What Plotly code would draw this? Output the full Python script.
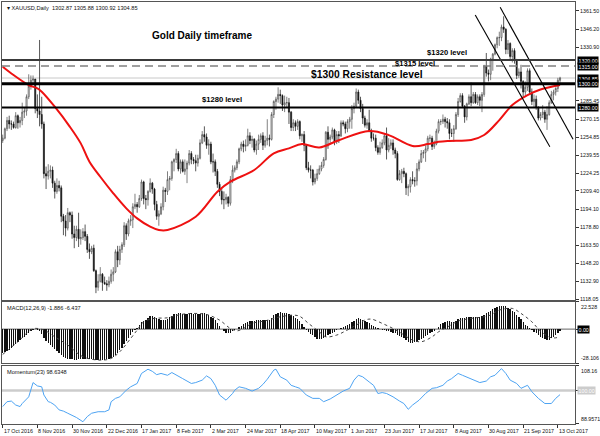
import plotly.graph_objects as go

# ---------------- data ----------------
date_labels = ["17 Oct 2016", "8 Nov 2016", "30 Nov 2016", "22 Dec 2016", "17 Jan 2017",
               "8 Feb 2017", "2 Mar 2017", "24 Mar 2017", "18 Apr 2017", "10 May 2017",
               "1 Jun 2017", "23 Jun 2017", "17 Jul 2017", "8 Aug 2017", "30 Aug 2017",
               "21 Sep 2017", "13 Oct 2017"]
date_label_bars = [0, 16, 32, 48, 64, 80, 96, 112, 128, 144, 160, 176, 192, 208, 224, 240, 256]

opens = [1252, 1254, 1262, 1269, 1266, 1266, 1263, 1273, 1267, 1269,
         1276, 1277, 1289, 1298, 1303, 1304, 1279, 1277, 1274, 1266,
         1224, 1222, 1226, 1227, 1216, 1209, 1214, 1212, 1188, 1184,
         1178, 1191, 1189, 1173, 1170, 1177, 1169, 1170, 1175, 1171,
         1160, 1158, 1161, 1142, 1128, 1133, 1139, 1132, 1131, 1130,
         1133, 1139, 1141, 1158, 1151, 1160, 1164, 1180, 1173, 1184,
         1185, 1196, 1198, 1196, 1203, 1217, 1203, 1202, 1209, 1216,
         1211, 1198, 1188, 1190, 1196, 1210, 1209, 1219, 1220, 1234,
         1236, 1241, 1228, 1234, 1226, 1228, 1233, 1241, 1236, 1235,
         1233, 1237, 1250, 1257, 1255, 1248, 1249, 1234, 1234, 1226,
         1215, 1209, 1202, 1202, 1204, 1199, 1219, 1227, 1229, 1234,
         1245, 1249, 1247, 1248, 1256, 1252, 1253, 1244, 1249, 1253,
         1256, 1248, 1252, 1254, 1253, 1274, 1285, 1287, 1291, 1290,
         1282, 1284, 1284, 1276, 1263, 1267, 1264, 1268, 1256, 1257,
         1248, 1229, 1227, 1227, 1217, 1220, 1224, 1228, 1231, 1236,
         1259, 1253, 1255, 1261, 1251, 1257, 1256, 1267, 1266, 1262,
         1268, 1270, 1279, 1281, 1293, 1286, 1279, 1271, 1265, 1267,
         1260, 1254, 1254, 1246, 1242, 1246, 1250, 1256, 1244, 1248,
         1250, 1244, 1241, 1219, 1224, 1226, 1224, 1212, 1213, 1219,
         1218, 1218, 1228, 1234, 1241, 1242, 1245, 1254, 1254, 1247,
         1249, 1260, 1268, 1268, 1270, 1268, 1267, 1258, 1258, 1262,
         1274, 1285, 1290, 1281, 1272, 1283, 1289, 1284, 1291, 1284,
         1289, 1286, 1291, 1315, 1309, 1308, 1321, 1325, 1333, 1339,
         1339, 1348, 1346, 1329, 1334, 1323, 1328, 1320, 1307, 1310,
         1302, 1293, 1297, 1311, 1293, 1285, 1287, 1280, 1271, 1274,
         1276, 1270, 1274, 1284, 1291, 1293, 1296, 1302.87]

highs = [1257, 1263, 1272, 1273, 1269, 1268, 1276, 1274, 1272, 1284,
         1280, 1291, 1308, 1307, 1307, 1304, 1291, 1337, 1289, 1268,
         1230, 1232, 1231, 1230, 1218, 1220, 1218, 1214, 1190, 1189,
         1195, 1192, 1192, 1180, 1180, 1191, 1177, 1178, 1181, 1173,
         1165, 1163, 1164, 1143, 1139, 1145, 1140, 1137, 1134, 1137,
         1143, 1145, 1160, 1163, 1163, 1166, 1183, 1182, 1186, 1189,
         1199, 1207, 1200, 1206, 1219, 1218, 1206, 1210, 1220, 1217,
         1212, 1201, 1193, 1199, 1213, 1212, 1226, 1222, 1235, 1237,
         1245, 1243, 1236, 1236, 1236, 1235, 1244, 1243, 1238, 1240,
         1240, 1253, 1260, 1264, 1258, 1253, 1251, 1241, 1236, 1228,
         1217, 1211, 1209, 1207, 1205, 1222, 1231, 1231, 1236, 1246,
         1251, 1252, 1253, 1262, 1259, 1256, 1254, 1252, 1257, 1258,
         1259, 1256, 1270, 1257, 1276, 1286, 1289, 1297, 1295, 1291,
         1290, 1289, 1288, 1277, 1270, 1269, 1270, 1269, 1258, 1260,
         1249, 1234, 1231, 1228, 1224, 1228, 1231, 1234, 1238, 1260,
         1264, 1257, 1263, 1262, 1260, 1260, 1269, 1269, 1268, 1270,
         1272, 1282, 1284, 1296, 1295, 1289, 1283, 1273, 1270, 1278,
         1262, 1258, 1257, 1248, 1251, 1253, 1258, 1263, 1254, 1253,
         1253, 1246, 1243, 1227, 1228, 1229, 1225, 1215, 1221, 1226,
         1221, 1233, 1236, 1244, 1244, 1248, 1256, 1257, 1256, 1252,
         1262, 1270, 1270, 1274, 1272, 1271, 1270, 1262, 1265, 1276,
         1288, 1292, 1292, 1282, 1284, 1291, 1301, 1293, 1293, 1291,
         1291, 1293, 1316, 1326, 1312, 1322, 1326, 1334, 1340, 1344,
         1350, 1357, 1347, 1337, 1335, 1330, 1330, 1321, 1313, 1316,
         1303, 1302, 1313, 1313, 1296, 1291, 1290, 1281, 1276, 1282,
         1278, 1281, 1286, 1294, 1295, 1297, 1305, 1305.88]

lows = [1250, 1253, 1260, 1262, 1261, 1262, 1262, 1262, 1263, 1265,
        1271, 1273, 1287, 1295, 1300, 1275, 1271, 1264, 1262, 1220,
        1211, 1219, 1220, 1212, 1203, 1207, 1209, 1183, 1172, 1171,
        1176, 1183, 1169, 1161, 1167, 1162, 1164, 1168, 1167, 1157,
        1152, 1156, 1141, 1123, 1125, 1132, 1125, 1130, 1125, 1128,
        1131, 1133, 1140, 1145, 1147, 1157, 1162, 1168, 1171, 1180,
        1178, 1194, 1191, 1195, 1201, 1198, 1194, 1197, 1208, 1207,
        1193, 1185, 1180, 1189, 1193, 1200, 1206, 1210, 1218, 1226,
        1233, 1226, 1224, 1225, 1223, 1216, 1231, 1232, 1232, 1226,
        1230, 1236, 1249, 1251, 1245, 1240, 1232, 1225, 1222, 1212,
        1205, 1198, 1194, 1198, 1196, 1197, 1216, 1225, 1227, 1232,
        1243, 1242, 1243, 1247, 1249, 1246, 1242, 1240, 1244, 1250,
        1244, 1246, 1248, 1247, 1252, 1271, 1278, 1284, 1283, 1277,
        1276, 1280, 1266, 1260, 1260, 1260, 1261, 1253, 1251, 1243,
        1227, 1225, 1220, 1214, 1215, 1218, 1223, 1226, 1229, 1235,
        1245, 1250, 1253, 1248, 1249, 1250, 1255, 1264, 1258, 1259,
        1262, 1262, 1275, 1280, 1283, 1276, 1266, 1263, 1262, 1259,
        1251, 1252, 1243, 1240, 1240, 1245, 1248, 1236, 1242, 1245,
        1240, 1237, 1218, 1218, 1216, 1221, 1206, 1205, 1208, 1215,
        1213, 1214, 1226, 1233, 1237, 1234, 1243, 1251, 1244, 1245,
        1248, 1258, 1265, 1266, 1263, 1262, 1253, 1255, 1251, 1261,
        1272, 1284, 1280, 1267, 1269, 1282, 1281, 1283, 1283, 1282,
        1281, 1276, 1289, 1306, 1302, 1303, 1311, 1324, 1330, 1332,
        1336, 1343, 1325, 1325, 1321, 1318, 1317, 1304, 1305, 1296,
        1288, 1290, 1294, 1291, 1282, 1280, 1278, 1269, 1269, 1271,
        1267, 1261, 1273, 1283, 1286, 1290, 1293, 1300.92]

closes = [1254, 1262, 1269, 1266, 1266, 1263, 1273, 1267, 1269, 1276,
          1277, 1289, 1298, 1303, 1304, 1279, 1277, 1274, 1266, 1224,
          1222, 1226, 1227, 1216, 1209, 1214, 1212, 1188, 1184, 1178,
          1191, 1189, 1173, 1170, 1177, 1169, 1170, 1175, 1171, 1160,
          1158, 1161, 1142, 1128, 1133, 1139, 1132, 1131, 1130, 1133,
          1139, 1141, 1158, 1151, 1160, 1164, 1180, 1173, 1184, 1185,
          1196, 1198, 1196, 1203, 1217, 1203, 1202, 1209, 1216, 1211,
          1198, 1188, 1190, 1196, 1210, 1209, 1219, 1220, 1234, 1236,
          1241, 1228, 1234, 1226, 1228, 1233, 1241, 1236, 1235, 1233,
          1237, 1250, 1257, 1255, 1248, 1249, 1234, 1234, 1226, 1215,
          1209, 1202, 1202, 1204, 1199, 1219, 1227, 1229, 1234, 1245,
          1249, 1247, 1248, 1256, 1252, 1253, 1244, 1249, 1253, 1256,
          1248, 1252, 1254, 1253, 1274, 1285, 1287, 1291, 1290, 1282,
          1284, 1284, 1276, 1263, 1267, 1264, 1268, 1256, 1257, 1248,
          1229, 1227, 1227, 1217, 1220, 1224, 1228, 1231, 1236, 1259,
          1253, 1255, 1261, 1251, 1257, 1256, 1267, 1266, 1262, 1268,
          1270, 1279, 1281, 1293, 1286, 1279, 1271, 1265, 1267, 1260,
          1254, 1254, 1246, 1242, 1246, 1250, 1256, 1244, 1248, 1250,
          1244, 1241, 1219, 1224, 1226, 1224, 1212, 1213, 1219, 1218,
          1218, 1228, 1234, 1241, 1242, 1245, 1254, 1254, 1247, 1249,
          1260, 1268, 1268, 1270, 1268, 1267, 1258, 1258, 1262, 1274,
          1285, 1290, 1281, 1272, 1283, 1289, 1284, 1291, 1284, 1289,
          1286, 1291, 1315, 1309, 1308, 1321, 1325, 1333, 1339, 1339,
          1348, 1346, 1329, 1334, 1323, 1328, 1320, 1307, 1310, 1302,
          1293, 1297, 1311, 1293, 1285, 1287, 1280, 1271, 1274, 1276,
          1270, 1274, 1284, 1291, 1293, 1296, 1303, 1304.85]

# moving average (red line), read at sampled bars
ma_bars = [0, 5, 12, 16, 18, 24, 31, 36, 40, 45, 51, 57, 62, 68, 72, 76, 89, 99, 105, 116,
           125, 132, 138, 146, 155, 169, 178, 189, 196, 201, 206, 216, 222, 229, 235, 242, 248, 257]
ma_vals = [1314.4, 1307.4, 1298.9, 1296.1, 1293.3, 1280.6, 1263.6, 1249.6, 1234.1, 1221.4,
           1207.4, 1194.7, 1186.2, 1179.2, 1176.4, 1176.4, 1187.6, 1208.7, 1217.2, 1227.1,
           1241.2, 1245.4, 1249.0, 1246.2, 1252.3, 1260.0, 1256.6, 1247.4, 1249.0, 1250.9,
           1251.7, 1252.5, 1256.7, 1269.3, 1282.0, 1290.4, 1295.2, 1299.0]

# horizontal levels
level_1320 = 1320.0
level_1315 = 1315.0
level_1300 = 1300.0
level_1280 = 1280.0

# descending channel lines (bar, price)
chan1_bars = [217.9, 252.3]
chan1_vals = [1358.1, 1246.8]
chan2_bars = [229.4, 263.0]
chan2_vals = [1364.6, 1253.0]

# MACD(12,26,9) main (histogram) per bar
macd_main = [
    -19.9, -19.0, -17.9, -16.8, -15.6, -14.2, -12.6, -10.9, -9.2, -7.6,
    -6.2, -4.8, -3.2, -1.6, -0.6, -0.2, -0.4, -1.5, -3.8, -7.4,
    -9.6, -11.3, -13.0, -14.8, -16.7, -18.3, -19.6, -21.3, -22.6, -23.5,
    -24.2, -24.6, -24.9, -25.0, -25.0, -24.7, -24.6, -24.3, -24.2, -24.5,
    -24.6, -24.6, -25.1, -25.6, -25.5, -25.4, -25.3, -25.1, -24.8, -24.2,
    -23.5, -22.6, -21.0, -19.4, -17.4, -15.3, -12.4, -10.0, -7.5, -4.9,
    -2.6, -0.8, 0.9, 3.4, 5.6, 6.6, 7.9, 9.4, 10.6, 10.9,
    10.3, 9.4, 8.4, 7.6, 7.4, 7.8, 8.7, 9.6, 11.0, 12.1,
    12.8, 12.9, 13.0, 12.7, 12.6, 12.5, 12.9, 12.9, 12.8, 12.5,
    12.3, 12.6, 13.1, 13.0, 12.3, 11.4, 10.2, 8.8, 7.2, 5.4,
    2.9, 0.3, -1.6, -2.8, -3.6, -2.8, -1.6, -0.6, 0.5, 1.7,
    2.9, 4.0, 5.0, 6.1, 6.6, 6.9, 7.0, 7.1, 7.2, 7.4,
    7.4, 7.4, 7.6, 7.8, 9.4, 11.2, 12.6, 13.5, 13.7, 13.5,
    13.2, 12.9, 12.3, 11.3, 10.6, 9.5, 8.4, 6.5, 4.2, 1.8,
    -0.4, -2.2, -3.7, -5.0, -6.8, -8.0, -8.2, -7.9, -7.2, -6.1,
    -5.2, -4.3, -3.2, -2.0, -1.1, 0.1, 0.9, 1.8, 2.6, 3.5,
    4.5, 5.7, 7.0, 8.4, 8.8, 8.6, 7.9, 7.0, 6.0, 4.9,
    3.7, 2.6, 1.4, 0.6, -0.1, -0.5, -0.7, -1.2, -1.7, -2.1,
    -2.8, -3.6, -4.8, -5.8, -6.8, -7.6, -9.2, -10.5, -11.1, -11.3,
    -10.9, -10.2, -9.3, -8.2, -7.1, -6.0, -4.6, -3.5, -2.5, -1.5,
    0.2, 2.1, 4.0, 5.3, 6.2, 6.6, 6.3, 6.0, 6.1, 7.0,
    8.0, 9.1, 9.4, 9.3, 9.7, 9.9, 10.0, 10.1, 9.9, 9.9,
    10.0, 10.5, 11.8, 13.2, 14.2, 15.3, 16.3, 17.2, 17.9, 18.6,
    19.3, 19.4, 18.6, 17.6, 16.4, 15.1, 13.8, 11.9, 10.2, 8.0,
    5.6, 3.7, 2.3, 0.9, -0.8, -2.1, -3.6, -5.2, -6.3, -7.4,
    -8.3, -9.0, -8.6, -7.5, -6.4, -5.0, -3.3, -1.886]

# MACD signal (dotted), read at sampled bars
sig_bars = [0, 7, 14, 19, 24, 30, 37, 45, 50, 54, 59, 62, 65, 70, 76, 82, 88, 94, 100, 105,
            108, 111, 115, 121, 128, 134, 137, 141, 146, 149, 154, 158, 163, 167, 170, 175,
            180, 184, 189, 193, 198, 201, 206, 210, 216, 224, 229, 235, 239, 244, 248, 253, 257]
sig_vals = [-20.8, -10.4, 0.3, -0.8, -6.3, -13.1, -22.7, -25.5, -24.1, -18.6, -7.7, -0.8,
            6.0, 8.8, 9.3, 12.0, 12.9, 12.0, 7.4, 0.5, -1.4, 0.5, 4.7, 6.8, 10.1, 11.5, 10.5,
            4.7, -2.2, -6.3, -4.9, -1.6, 3.3, 7.4, 8.2, 4.7, 0.5, -3.6, -9.0, -10.4, -6.3,
            -2.2, 2.7, 6.6, 8.8, 10.9, 15.6, 17.0, 12.9, 6.0, -1.6, -7.1, -6.437]

# Momentum(23), read at sampled bars
mom_bars = [0, 2, 4, 6, 8, 9, 12, 13, 14, 16, 18, 19, 21, 22, 24, 26, 28, 30, 32, 34, 37, 39,
            41, 44, 47, 49, 50, 52, 54, 57, 59, 62, 64, 67, 69, 71, 73, 76, 78, 80, 83, 85,
            87, 89, 92, 94, 96, 98, 100, 103, 106, 107, 109, 112, 115, 118, 120, 122, 125,
            126, 128, 131, 133, 135, 137, 140, 143, 146, 148, 151, 154, 157, 160, 162, 164,
            166, 169, 171, 173, 175, 177, 180, 183, 185, 187, 189, 192, 195, 198, 200, 203,
            205, 207, 210, 212, 215, 218, 220, 223, 225, 227, 230, 232, 234, 237, 239, 242,
            244, 247, 250, 253, 255, 257]
mom_vals = [94.7, 96.3, 96.5, 95.2, 94.7, 95.7, 97.9, 100.0, 102.6, 101.5, 101.2, 98.5, 96.3,
            96.1, 95.2, 93.6, 93.2, 92.5, 91.9, 91.1, 89.7, 91.4, 92.5, 93.0, 93.0, 93.6, 96.3,
            97.4, 97.9, 100.1, 101.2, 102.3, 105.6, 107.0, 106.3, 105.2, 105.6, 105.0, 105.9,
            105.0, 103.9, 103.1, 102.3, 102.6, 103.4, 104.8, 103.9, 101.7, 98.5, 96.8, 99.0,
            100.1, 101.2, 100.7, 99.8, 100.7, 102.0, 103.7, 106.7, 107.0, 104.5, 103.4, 101.7,
            101.2, 100.7, 98.5, 97.4, 97.4, 96.3, 97.2, 98.5, 99.8, 100.7, 103.4, 105.0, 104.5,
            102.8, 101.7, 99.0, 99.3, 99.0, 97.9, 96.5, 95.7, 93.8, 95.2, 96.8, 99.0, 100.7,
            100.9, 101.7, 103.1, 103.9, 105.6, 105.0, 104.1, 103.4, 102.6, 103.1, 104.5, 105.0,
            107.2, 105.6, 103.4, 102.3, 100.7, 101.7, 99.6, 97.4, 95.7, 95.7, 97.4, 98.6348]
mom_level = 100.0

price_ticks = [1361.50, 1346.20, 1330.90, 1285.45, 1270.15, 1254.85, 1239.55, 1224.25,
               1209.40, 1194.10, 1178.80, 1163.50, 1148.20, 1132.90, 1118.05]
macd_scale = [22.528, -28.106]
mom_scale = [108.16, 88.9571]

assert len(opens) == len(highs) == len(lows) == len(closes) == len(macd_main)
bars = list(range(len(closes)))

# ---------------- figure ----------------
FONT = "Liberation Sans"
BORDER = "#555555"
fig = go.Figure()

fig.add_trace(go.Candlestick(
    x=bars, open=opens, high=highs, low=lows, close=closes,
    increasing=dict(line=dict(color="#4a4a4a", width=0.7), fillcolor="#ffffff"),
    decreasing=dict(line=dict(color="#111111", width=0.7), fillcolor="#111111"),
    whiskerwidth=0, xaxis="x", yaxis="y", showlegend=False, hoverinfo="none"))

fig.add_trace(go.Scatter(x=ma_bars, y=ma_vals, mode="lines", line=dict(color="#ee1111", width=2, shape="spline"),
                         xaxis="x", yaxis="y", showlegend=False, hoverinfo="skip"))

for bx, by in ((chan1_bars, chan1_vals), (chan2_bars, chan2_vals)):
    fig.add_trace(go.Scatter(x=bx, y=by, mode="lines", line=dict(color="#000000", width=1.1),
                             xaxis="x", yaxis="y", showlegend=False, hoverinfo="skip", cliponaxis=True))

fig.add_trace(go.Bar(x=bars, y=macd_main, marker=dict(color="#111111", line=dict(width=0)), width=0.62,
                     xaxis="x2", yaxis="y2", showlegend=False, hoverinfo="skip"))
fig.add_trace(go.Scatter(x=sig_bars, y=sig_vals, mode="lines",
                         line=dict(color="#444444", width=1, dash="dot", shape="spline"),
                         xaxis="x2", yaxis="y2", showlegend=False, hoverinfo="skip"))

fig.add_trace(go.Scatter(x=mom_bars, y=mom_vals, mode="lines", line=dict(color="#4da3f2", width=1),
                         xaxis="x3", yaxis="y3", showlegend=False, hoverinfo="skip"))

# level lines
def hline(y, yref, color, width, dash="solid", layer="above"):
    fig.add_shape(type="line", xref="x domain", x0=0, x1=1, yref=yref, y0=y, y1=y,
                  line=dict(color=color, width=width, dash=dash), layer=layer)

hline(level_1320, "y", "#3a3a3a", 2)
hline(level_1315, "y", "#808080", 1.5, dash="8px,5px")
hline(closes[-1], "y", "#c8c8c8", 1, layer="below")
hline(level_1300, "y", "#000000", 3.2)
hline(level_1280, "y", "#000000", 2)
fig.add_shape(type="line", xref="x2 domain", x0=0, x1=1, yref="y2", y0=0, y1=0,
              line=dict(color="#666666", width=1), layer="below")
fig.add_shape(type="line", xref="x3 domain", x0=0, x1=1, yref="y3", y0=mom_level, y1=mom_level,
              line=dict(color="#cccccc", width=2.5), layer="below")

xr = [-0.32, 263.9]
ax_common = dict(showgrid=False, zeroline=False, showline=True, mirror=True, linecolor=BORDER, linewidth=1)
fig.update_layout(
    width=600, height=436,
    margin=dict(l=1, r=23, t=2, b=12),
    paper_bgcolor="white", plot_bgcolor="white",
    bargap=0, hovermode=False,
    font=dict(family=FONT, color="#111111"),
    xaxis=dict(domain=[0, 1], range=xr, anchor="y", showticklabels=False, ticks="",
               rangeslider=dict(visible=False), **ax_common),
    yaxis=dict(domain=[0.2938, 1], range=[1117.2, 1369.1], side="right", anchor="x",
               tickvals=price_ticks, ticktext=["%.2f" % v for v in price_ticks],
               ticks="outside", ticklen=3, tickcolor="#333", tickfont=dict(size=5.3, family=FONT),
               **ax_common),
    xaxis2=dict(domain=[0, 1], range=xr, anchor="y2", showticklabels=False, ticks="", **ax_common),
    yaxis2=dict(domain=[0.1438, 0.2898], range=[macd_scale[1], macd_scale[0]], side="right", anchor="x2",
                tickvals=macd_scale + [0], showticklabels=False, ticks="outside", ticklen=3,
                tickcolor="#333", **ax_common),
    xaxis3=dict(domain=[0, 1], range=xr, anchor="y3", showticklabels=False,
                tickvals=date_label_bars, ticks="outside", ticklen=3, tickcolor="#333", **ax_common),
    yaxis3=dict(domain=[0, 0.1382], range=[mom_scale[1], mom_scale[0]], side="right", anchor="x3",
                tickvals=mom_scale + [mom_level], showticklabels=False, ticks="outside", ticklen=3,
                tickcolor="#333", **ax_common),
)

ann = []
SMALL = 5.3
# date labels
for b, t in zip(date_label_bars, date_labels):
    ann.append(dict(xref="x3", x=b, yref="paper", y=0, yanchor="top", xanchor="left", yshift=-2, xshift=-1,
                    text=t, showarrow=False, font=dict(size=SMALL, family=FONT, color="#111")))
# right-side black value boxes
for v in (level_1320, level_1315, closes[-1], level_1300, level_1280):
    ann.append(dict(xref="paper", x=1, xanchor="left", xshift=2, yref="y", y=v, yanchor="middle",
                    text="%.2f" % v, showarrow=False, bgcolor="#000000", borderpad=0.5,
                    font=dict(size=SMALL, family=FONT, color="#ffffff")))
# indicator scale labels
ann.append(dict(xref="paper", x=1, xanchor="left", xshift=4, yref="y2", y=macd_scale[0], yanchor="top",
                text="%.3f" % macd_scale[0], showarrow=False, font=dict(size=SMALL, family=FONT)))
ann.append(dict(xref="paper", x=1, xanchor="left", xshift=4, yref="y2", y=macd_scale[1], yanchor="bottom",
                text="%.3f" % macd_scale[1], showarrow=False, font=dict(size=SMALL, family=FONT)))
ann.append(dict(xref="paper", x=1, xanchor="left", xshift=2, yref="y2", y=0, yanchor="middle",
                text="0.00", showarrow=False, bgcolor="#000000", borderpad=0.5,
                font=dict(size=SMALL, family=FONT, color="#ffffff")))
ann.append(dict(xref="paper", x=1, xanchor="left", xshift=4, yref="y3", y=mom_scale[0], yanchor="top",
                text="%.2f" % mom_scale[0], showarrow=False, font=dict(size=SMALL, family=FONT)))
ann.append(dict(xref="paper", x=1, xanchor="left", xshift=4, yref="y3", y=mom_scale[1], yanchor="bottom",
                text="%.4f" % mom_scale[1], showarrow=False, font=dict(size=SMALL, family=FONT)))
ann.append(dict(xref="paper", x=1, xanchor="left", xshift=2, yref="y3", y=mom_level, yanchor="middle",
                text="100.00", showarrow=False, bgcolor="#cccccc", borderpad=0.5,
                font=dict(size=SMALL, family=FONT, color="#ffffff")))
# panel headers
ann.append(dict(xref="paper", x=0, xanchor="left", xshift=3, yref="paper", y=1, yanchor="top", yshift=-1,
                text="\u25be XAUUSD,Daily  %.2f %.2f %.2f %.2f" % (opens[-1], highs[-1], lows[-1], closes[-1]),
                showarrow=False, font=dict(size=5.6, family=FONT)))
ann.append(dict(xref="paper", x=0, xanchor="left", xshift=3, yref="paper", y=0.2898, yanchor="top", yshift=-1,
                text="MACD(12,26,9) %.3f %.3f" % (macd_main[-1], sig_vals[-1]),
                showarrow=False, font=dict(size=5.6, family=FONT)))
ann.append(dict(xref="paper", x=0, xanchor="left", xshift=3, yref="paper", y=0.1382, yanchor="top", yshift=-1,
                text="Momentum(23) %.4f" % mom_vals[-1], showarrow=False, font=dict(size=5.6, family=FONT)))
# chart text notes
ann.append(dict(xref="x", x=92, yref="y", y=1340.4, text="<b>Gold Daily timeframe</b>", showarrow=False,
                font=dict(size=10, family=FONT, color="#000")))
ann.append(dict(xref="x", x=205, yref="y", y=1326.0, text="<b>$1320 level</b>", showarrow=False,
                font=dict(size=7.6, family=FONT, color="#000")))
ann.append(dict(xref="x", x=190, yref="y", y=1317.3, text="<b>$1315 level</b>", showarrow=False,
                font=dict(size=7.6, family=FONT, color="#000")))
ann.append(dict(xref="x", x=168, yref="y", y=1308.2, text="<b>$1300 Resistance level</b>", showarrow=False,
                font=dict(size=10.3, family=FONT, color="#000")))
ann.append(dict(xref="x", x=101, yref="y", y=1286.3, text="<b>$1280 level</b>", showarrow=False,
                font=dict(size=7.6, family=FONT, color="#000")))
fig.update_layout(annotations=ann)

fig.write_html("out.html",
               config={"displayModeBar": False, "staticPlot": True},
               post_script="document.body.style.margin='0';document.body.style.padding='0';"
                           "document.body.style.overflow='hidden';")
